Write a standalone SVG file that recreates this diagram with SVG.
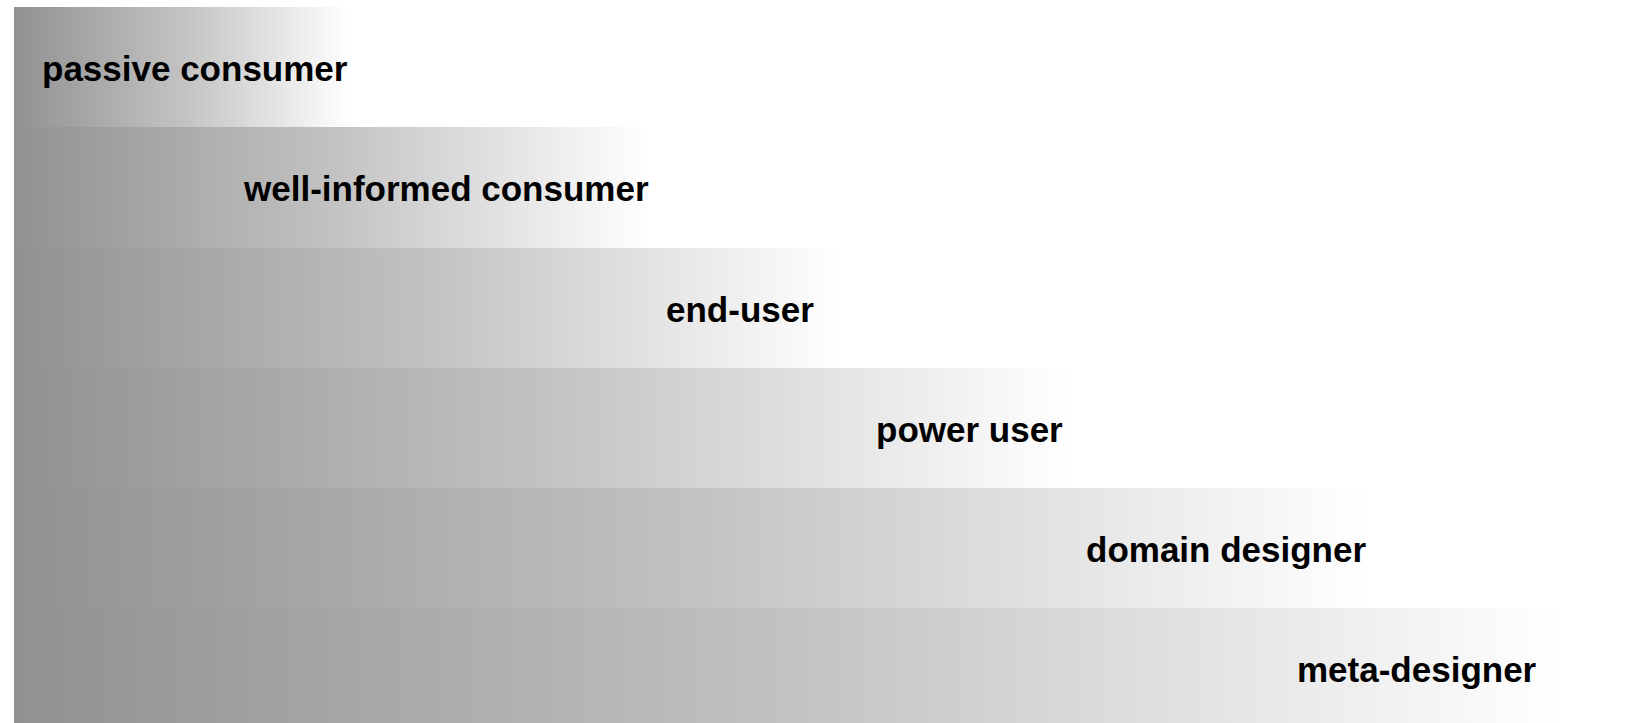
<svg xmlns="http://www.w3.org/2000/svg" width="1636" height="723" viewBox="0 0 1636 723">
  <defs>
    <linearGradient id="fade" x1="0" y1="0" x2="1" y2="0">
      <stop offset="0" stop-color="#919191"/>
      <stop offset="0.5" stop-color="#c2c2c2"/>
      <stop offset="1" stop-color="#ffffff"/>
    </linearGradient>
    <style>
      .bar { fill: url(#fade); }
      .lbl { font-family: "Liberation Sans", Arial, sans-serif; font-weight: bold; font-size: 35px; fill: #000000; }
    </style>
  </defs>
  <rect x="0" y="0" width="1636" height="723" fill="#ffffff"/>
  <g id="passive-consumer">
    <rect class="bar" x="14" y="7" width="336" height="120"/>
    <text class="lbl" x="42" y="81">passive consumer</text>
  </g>
  <g id="well-informed-consumer">
    <rect class="bar" x="14" y="127" width="636" height="121"/>
    <text class="lbl" x="244" y="201">well-informed consumer</text>
  </g>
  <g id="end-user">
    <rect class="bar" x="14" y="248" width="826" height="120"/>
    <text class="lbl" x="666" y="322">end-user</text>
  </g>
  <g id="power-user">
    <rect class="bar" x="14" y="368" width="1056" height="120"/>
    <text class="lbl" x="876" y="442">power user</text>
  </g>
  <g id="domain-designer">
    <rect class="bar" x="14" y="488" width="1354" height="120"/>
    <text class="lbl" x="1086" y="562">domain designer</text>
  </g>
  <g id="meta-designer">
    <rect class="bar" x="14" y="608" width="1546" height="115"/>
    <text class="lbl" x="1297" y="682">meta-designer</text>
  </g>
  <g id="connectors"/>
</svg>
